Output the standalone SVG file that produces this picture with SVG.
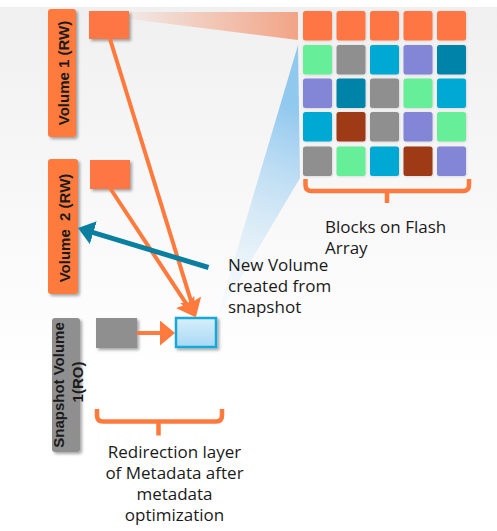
<svg xmlns="http://www.w3.org/2000/svg" width="497" height="531" viewBox="0 0 497 531">
<defs>
<style>
.txt{font-family:"Open Sans","Liberation Sans",sans-serif;font-size:17px;fill:#1a1a1a}
.lbl{font-family:"Liberation Sans",Arial,sans-serif;font-size:15px;font-weight:bold;fill:#1a1a1a;white-space:pre}
.or{fill:#FF7644}
.gr{fill:#66EE99}
.gy{fill:#8F8F8F}
.cy{fill:#00A9D4}
.pu{fill:#8386D6}
.dt{fill:#0083A8}
.br{fill:#9E3A16}
.cell{filter:url(#sh2)}
.conn{fill:none;stroke-linejoin:round}
.brk{fill:none;stroke:#FF7A3C;stroke-width:4.5;stroke-linecap:butt}
</style>
<linearGradient id="bg" x1="0" y1="0" x2="0" y2="1">
<stop offset="0" stop-color="#F0F0F0"/>
<stop offset="0.7" stop-color="#FFFFFF"/>
</linearGradient>
<linearGradient id="owedge" x1="130" y1="0" x2="298" y2="0" gradientUnits="userSpaceOnUse">
<stop offset="0" stop-color="#F58A60" stop-opacity="0.08"/>
<stop offset="1" stop-color="#F28A62" stop-opacity="0.75"/>
</linearGradient>
<linearGradient id="bwedge" x1="300" y1="110" x2="222" y2="300" gradientUnits="userSpaceOnUse">
<stop offset="0" stop-color="#8CC6EE" stop-opacity="0.95"/>
<stop offset="1" stop-color="#D6EBFA" stop-opacity="0.15"/>
</linearGradient>
<linearGradient id="bsq" x1="0" y1="0" x2="0" y2="1">
<stop offset="0" stop-color="#D8EFFC"/>
<stop offset="1" stop-color="#A8D8F4"/>
</linearGradient>
<filter id="sh" x="-30%" y="-30%" width="160%" height="160%">
<feDropShadow dx="2" dy="2" stdDeviation="1.8" flood-color="#000" flood-opacity="0.35"/>
</filter>
<filter id="sh2" x="-20%" y="-20%" width="140%" height="140%">
<feDropShadow dx="0.5" dy="0.5" stdDeviation="0.8" flood-color="#000" flood-opacity="0.15"/>
</filter>
<marker id="ahO" markerUnits="userSpaceOnUse" markerWidth="20" markerHeight="24" refX="8" refY="11" orient="auto">
<path d="M0,0 L18,11 L0,22 L3,11 z" fill="#FF7A3C"/>
</marker>
<marker id="ahG" markerUnits="userSpaceOnUse" markerWidth="18" markerHeight="26" refX="4" refY="12.5" orient="auto">
<path d="M0,0 L15,12.5 L0,25 z" fill="#FF7A3C"/>
</marker>
<marker id="ahT" markerUnits="userSpaceOnUse" markerWidth="18" markerHeight="26" refX="6" refY="12" orient="auto">
<path d="M0,0 L16,12 L0,24 z" fill="#0A7FA0"/>
</marker>
</defs>

<rect x="0" y="0" width="497" height="531" fill="#FFFFFF"/>
<rect x="0" y="7" width="497" height="524" fill="url(#bg)"/>

<g id="beams">
<polygon points="130,12 298,12 298,40 130,19" fill="url(#owedge)"/>
<polygon points="298,45 300,178 217,318" fill="url(#bwedge)"/>
</g>

<g id="volume1">
<rect x="48" y="9" width="28" height="128" rx="3" fill="#FF7A3C" filter="url(#sh)"/>
<text class="lbl" transform="translate(63.5,73) rotate(-90)" x="0" y="5.5" text-anchor="middle">Volume 1 (RW)</text>
</g>
<g id="volume2">
<rect x="48" y="159" width="30" height="135" rx="3" fill="#FF7A3C" filter="url(#sh)"/>
<text class="lbl" transform="translate(64,228) rotate(-90)" x="0" y="5.5" text-anchor="middle">Volume  2 (RW)</text>
</g>
<g id="snapshot">
<rect x="52" y="318" width="28" height="134" rx="3" fill="#8F8F8F" filter="url(#sh)"/>
<text class="lbl" transform="translate(66,385) rotate(-90)" text-anchor="middle"><tspan x="0" y="-2.5">Snapshot Volume</tspan><tspan x="3" y="17">1(RO)</tspan></text>
</g>

<g id="block-v1"><rect x="89" y="11" width="40" height="28" fill="#FF7644" filter="url(#sh)"/></g>
<g id="block-v2"><rect x="90" y="160" width="40" height="29" fill="#FF7644" filter="url(#sh)"/></g>
<g id="block-snap"><rect x="96" y="318" width="41" height="30" fill="#8F8F8F" filter="url(#sh)"/></g>
<g id="block-new"><rect x="176" y="318" width="40" height="29" fill="url(#bsq)" stroke="#18A8D6" stroke-width="2.5" filter="url(#sh)"/></g>

<g id="flash-array">
<g class="cell">
<rect class="or" x="303" y="11" width="29" height="29.5" rx="2.5"/>
<rect class="or" x="336.5" y="11" width="29" height="29.5" rx="2.5"/>
<rect class="or" x="370" y="11" width="29" height="29.5" rx="2.5"/>
<rect class="or" x="403.5" y="11" width="29" height="29.5" rx="2.5"/>
<rect class="or" x="437" y="11" width="29" height="29.5" rx="2.5"/>

<rect class="gr" x="303" y="45" width="29" height="29.5" rx="2.5"/>
<rect class="gy" x="336.5" y="45" width="29" height="29.5" rx="2.5"/>
<rect class="cy" x="370" y="45" width="29" height="29.5" rx="2.5"/>
<rect class="pu" x="403.5" y="45" width="29" height="29.5" rx="2.5"/>
<rect class="dt" x="437" y="45" width="29" height="29.5" rx="2.5"/>

<rect class="pu" x="303" y="78.5" width="29" height="29.5" rx="2.5"/>
<rect class="dt" x="336.5" y="78.5" width="29" height="29.5" rx="2.5"/>
<rect class="gy" x="370" y="78.5" width="29" height="29.5" rx="2.5"/>
<rect class="gr" x="403.5" y="78.5" width="29" height="29.5" rx="2.5"/>
<rect class="cy" x="437" y="78.5" width="29" height="29.5" rx="2.5"/>

<rect class="cy" x="303" y="112" width="29" height="29.5" rx="2.5"/>
<rect class="br" x="336.5" y="112" width="29" height="29.5" rx="2.5"/>
<rect class="gy" x="370" y="112" width="29" height="29.5" rx="2.5"/>
<rect class="pu" x="403.5" y="112" width="29" height="29.5" rx="2.5"/>
<rect class="gr" x="437" y="112" width="29" height="29.5" rx="2.5"/>

<rect class="gy" x="303" y="146.5" width="29" height="29.5" rx="2.5"/>
<rect class="gr" x="336.5" y="146.5" width="29" height="29.5" rx="2.5"/>
<rect class="cy" x="370" y="146.5" width="29" height="29.5" rx="2.5"/>
<rect class="br" x="403.5" y="146.5" width="29" height="29.5" rx="2.5"/>
<rect class="pu" x="437" y="146.5" width="29" height="29.5" rx="2.5"/>
</g>
</g>

<g id="connectors">
<path class="conn" d="M110,39 L193,307.4" stroke="#FF7A3C" stroke-width="4" marker-end="url(#ahO)"/>
<path class="conn" d="M110,188 L189.5,308.6" stroke="#FF7A3C" stroke-width="4" marker-end="url(#ahO)"/>
<path class="conn" d="M137,333 L164,333" stroke="#FF7A3C" stroke-width="4" marker-end="url(#ahG)"/>
<path class="conn" d="M208.5,267.5 L87.6,230.9" stroke="#0A7FA0" stroke-width="5" marker-end="url(#ahT)"/>
</g>

<g id="bracket-flash">
<path class="brk" d="M305.5,179 L305.5,185 Q305.5,191 311.5,191 L463,191 Q469,191 469,185 L469,179"/>
<path class="brk" d="M387,191 L387,203"/>
<text class="txt"><tspan x="325" y="233">Blocks on Flash</tspan><tspan x="325" y="254">Array</tspan></text>
</g>

<g id="label-new">
<text class="txt"><tspan x="228" y="271">New Volume</tspan><tspan x="228" y="292">created from</tspan><tspan x="228" y="313">snapshot</tspan></text>
</g>

<g id="bracket-redirect">
<path class="brk" d="M97,409 L97,415.5 Q97,421.5 103,421.5 L216,421.5 Q222,421.5 222,415.5 L222,409"/>
<path class="brk" d="M158.5,421.5 L158.5,435.5"/>
<text class="txt" text-anchor="middle"><tspan x="174.5" y="458">Redirection layer</tspan><tspan x="174.5" y="479">of Metadata after</tspan><tspan x="174.5" y="500">metadata</tspan><tspan x="174.5" y="521">optimization</tspan></text>
</g>
</svg>
